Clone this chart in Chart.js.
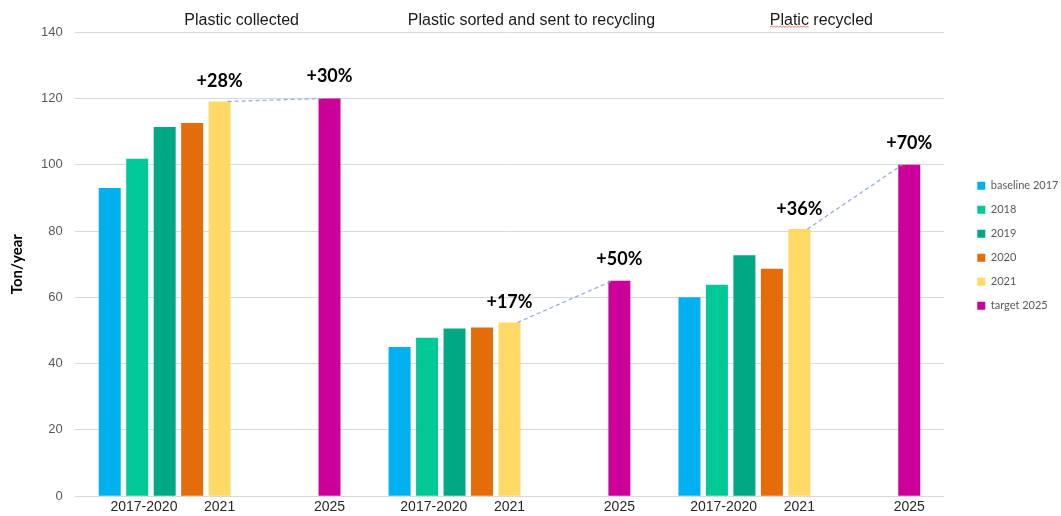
<!DOCTYPE html>
<html lang="en">
<head>
<meta charset="UTF-8">
<title>Plastic collected / sorted / recycled</title>
<script src="https://cdn.jsdelivr.net/npm/chart.js"></script>
<style>
    html, body { margin: 0; padding: 0; background: #fff; }
    #wrap { width: 1061px; height: 516px; }
</style>
</head>
<body>
<div id="wrap"><canvas id="mainChart"></canvas></div>
<script>
// --- data (Ton/year) ---
const groups = ['Plastic collected', 'Plastic sorted and sent to recycling', 'Platic recycled'];
const periodLabels = ['2017-2020', '2021', '2025'];

const baseline2017 = [93.0, 45.0, 60.0];
const y2018 = [101.8, 47.8, 63.8];
const y2019 = [111.4, 50.6, 72.7];
const y2020 = [112.6, 50.9, 68.6];
const y2021 = [119.1, 52.4, 80.6];
const target2025 = [120.0, 65.0, 100.0];

const growth2021 = ['+28%', '+17%', '+36%'];
const growth2025 = ['+30%', '+50%', '+70%'];

const yMin = 0, yMax = 140, yStep = 20;

// --- styling ---
const colors = {
    b17: '#00B0F0', b18: '#00C896', b19: '#00A884',
    b20: '#E46C0A', b21: '#FFD966', t25: '#CC0099'
};
const gap = () => ({ label: '', data: [null, null, null], backgroundColor: 'transparent', isGap: true });

// dashed growth lines, % labels, period labels under the bars, spell-check squiggle
const extras = {
    id: 'extras',
    afterDatasetsDraw(chart) {
        const ctx = chart.ctx;
        const area = chart.chartArea;
        const m17 = chart.getDatasetMeta(0), m20 = chart.getDatasetMeta(3);
        const m21 = chart.getDatasetMeta(4), m25 = chart.getDatasetMeta(8);
        ctx.save();
        for (let i = 0; i < groups.length; i++) {
            const a = m21.data[i], b = m25.data[i];
            // dashed connector
            ctx.beginPath();
            ctx.setLineDash([4, 3]);
            ctx.strokeStyle = '#8EA9DB';
            ctx.lineWidth = 1.2;
            ctx.moveTo(a.x + a.width / 2 - 3, a.y);
            ctx.lineTo(b.x - b.width / 2 + 4, b.y);
            ctx.stroke();
            ctx.setLineDash([]);

            // growth labels
            ctx.fillStyle = '#000';
            ctx.font = 'bold 18px Lato';
            ctx.textAlign = 'center';
            ctx.textBaseline = 'middle';
            ctx.fillText(growth2021[i], a.x, a.y - 20);
            ctx.fillText(growth2025[i], b.x, b.y - 22);

            // period labels under the bars
            ctx.fillStyle = '#262626';
            ctx.font = '14px "Liberation Sans"';
            const y = area.bottom + 11;
            ctx.fillText(periodLabels[0], (m17.data[i].x + m20.data[i].x) / 2 - 7, y);
            ctx.fillText(periodLabels[1], a.x, y);
            ctx.fillText(periodLabels[2], b.x, y);
        }

        // red spell-check squiggle under "Platic"
        const xs = chart.scales.x;
        ctx.font = '16px "Liberation Sans"';
        const full = groups[2];
        const word = full.split(' ')[0];
        const cx = xs.getPixelForValue(2) + xs.options.ticks.labelOffset;
        const x0 = cx - ctx.measureText(full).width / 2;
        const x1 = x0 + ctx.measureText(word).width;
        const sy = area.top - 5;
        ctx.beginPath();
        ctx.strokeStyle = '#E05050';
        ctx.lineWidth = 0.8;
        let up = true;
        ctx.moveTo(x0, sy);
        for (let x = x0 + 1.5; x <= x1; x += 1.5) {
            ctx.lineTo(x, up ? sy - 1 : sy);
            up = !up;
        }
        ctx.stroke();
        ctx.restore();
    }
};

new Chart(document.getElementById('mainChart'), {
    type: 'bar',
    data: {
        labels: groups,
        datasets: [
            { label: 'baseline 2017', data: baseline2017, backgroundColor: colors.b17 },
            { label: '2018', data: y2018, backgroundColor: colors.b18 },
            { label: '2019', data: y2019, backgroundColor: colors.b19 },
            { label: '2020', data: y2020, backgroundColor: colors.b20 },
            { label: '2021', data: y2021, backgroundColor: colors.b21 },
            gap(), gap(), gap(),
            { label: 'target 2025', data: target2025, backgroundColor: colors.t25 }
        ]
    },
    options: {
        responsive: true,
        maintainAspectRatio: false,
        animation: false,
        categoryPercentage: 0.853,
        barPercentage: 0.8,
        layout: { padding: { top: 9, left: 8, right: -7.5, bottom: 19 } },
        plugins: {
            tooltip: { enabled: false },
            legend: {
                position: 'right',
                align: 'start',
                // invisible title only pushes the legend items down
                title: { display: true, text: ' ', font: { size: 1 }, padding: { top: 157, bottom: 0 } },
                labels: {
                    boxWidth: 8,
                    boxHeight: 8,
                    padding: 13,
                    color: '#595959',
                    font: { family: 'Lato', size: 11 },
                    filter: (item, data) => !data.datasets[item.datasetIndex].isGap
                }
            }
        },
        scales: {
            x: {
                position: 'top',
                grid: { display: false, drawTicks: false },
                border: { display: false },
                ticks: {
                    color: '#1a1a1a',
                    font: { family: 'Liberation Sans', size: 16 },
                    padding: 2,
                    labelOffset: 22,
                    maxRotation: 0
                }
            },
            y: {
                min: yMin,
                max: yMax,
                grid: { color: '#D9D9D9', drawTicks: false },
                border: { display: false },
                ticks: {
                    stepSize: yStep,
                    color: '#595959',
                    font: { family: 'Liberation Sans', size: 13 },
                    padding: 12
                },
                title: {
                    display: true,
                    text: 'Ton/year',
                    color: '#000',
                    font: { family: 'Lato', size: 15, weight: 'bold' },
                    padding: { top: 0, bottom: 3 }
                }
            },
            // empty spacer between plot and legend
            yRight: {
                position: 'right',
                display: true,
                grid: { display: false, drawTicks: false },
                border: { display: false },
                ticks: { display: false },
                afterFit: s => { s.width = 20; }
            }
        }
    },
    plugins: [extras]
});
</script>
</body>
</html>
